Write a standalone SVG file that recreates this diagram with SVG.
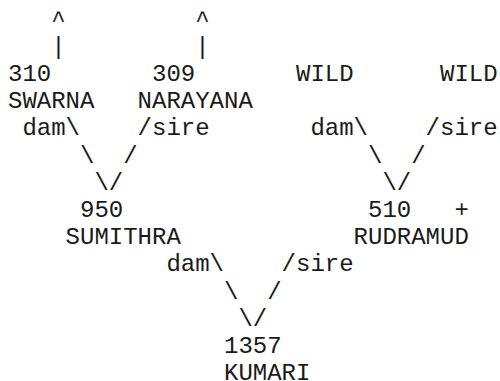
<svg xmlns="http://www.w3.org/2000/svg" width="500" height="381" viewBox="0 0 500 381">
<style>
text{font-family:"Liberation Mono","Courier New",monospace;font-size:24px;fill:#1a1a1a}
</style>
<rect width="500" height="381" fill="#fff"/>
<g id="connectors">
<text x="51.2" y="26.5">^</text>
<text x="51.2" y="53.7">|</text>
<text x="195.2" y="26.5">^</text>
<text x="195.2" y="53.7">|</text>
<text x="22.4" y="135.3">dam\</text>
<text x="137.6" y="135.3">/sire</text>
<text x="310.4" y="135.3">dam\</text>
<text x="425.6" y="135.3">/sire</text>
<text x="80" y="162.5">\</text>
<text x="123.2" y="162.5">/</text>
<text x="368" y="162.5">\</text>
<text x="411.2" y="162.5">/</text>
<text x="94.4" y="189.7">\/</text>
<text x="382.4" y="189.7">\/</text>
<text x="166.4" y="271.3">dam\</text>
<text x="281.6" y="271.3">/sire</text>
<text x="224" y="298.5">\</text>
<text x="267.2" y="298.5">/</text>
<text x="238.4" y="325.7">\/</text>
</g>
<g id="n310"><text x="8" y="80.9">310</text><text x="8" y="108.1">SWARNA</text></g>
<g id="n309"><text x="152" y="80.9">309</text><text x="137.6" y="108.1">NARAYANA</text></g>
<g id="wild1"><text x="296" y="80.9">WILD</text></g>
<g id="wild2"><text x="440" y="80.9">WILD</text></g>
<g id="n950"><text x="80" y="216.9">950</text><text x="65.6" y="244.1">SUMITHRA</text></g>
<g id="n510"><text x="368" y="216.9">510</text><text x="454.4" y="216.9">+</text><text x="353.6" y="244.1">RUDRAMUD</text></g>
<g id="n1357"><text x="224" y="352.9">1357</text><text x="224" y="380.1">KUMARI</text></g>
</svg>
